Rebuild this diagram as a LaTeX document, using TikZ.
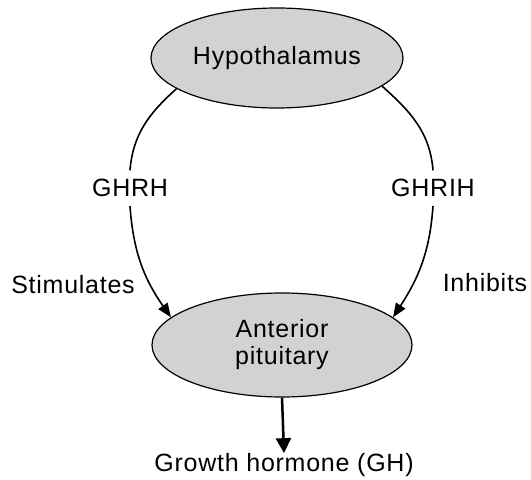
\documentclass[tikz,border=0pt]{standalone}
\usepackage{fontspec}
\setmainfont{Liberation Sans}[LetterSpace=3]
\usetikzlibrary{shapes.geometric,arrows.meta}
\definecolor{boxgray}{RGB}{210,210,210}
\begin{document}
\begin{tikzpicture}[x=1pt,y=1pt,
  organ/.style={ellipse,draw=black,line width=1.2pt,fill=boxgray,inner sep=0pt,align=center,font=\fontsize{25}{27}\selectfont},
  lbl/.style={font=\fontsize{25}{27}\selectfont,inner sep=0pt},
  midlbl/.style={font=\fontsize{25}{27}\selectfont,inner sep=9pt},
  link/.style={line width=1.6pt,line cap=round},
  linkarrow/.style={line width=1.6pt,-{Triangle[length=14pt,width=11pt]}},
  downarrow/.style={line width=2.5pt,-{Triangle[length=15pt,width=15pt]}}]
\useasboundingbox (0,0) rectangle (531,480);
\node[organ,minimum width=252pt,minimum height=100pt] (hyp) at (277,422) {Hypothalamus};
\node[organ,minimum width=260pt,minimum height=104pt] (ant) at (282,135) {Anterior\\pituitary};
\node[midlbl] (ghrh) at (130,292) {GHRH};
\node[midlbl] (ghrih) at (433,292) {GHRIH};
\node[lbl] (stim) at (73,195) {Stimulates};
\node[lbl] (inh) at (485,197) {Inhibits};
\node[lbl] (gh) at (284,15) {Growth hormone (GH)};
\draw[link] (hyp.197) to[out=-138,in=85] (ghrh.north);
\draw[linkarrow] (ghrh.south) to[out=-86,in=125] (ant.166);
\draw[link] (hyp.345) to[out=-42,in=95] (ghrih.north);
\draw[linkarrow] (ghrih.south) to[out=-94,in=57] (ant.14);
\draw[downarrow] (ant.south) -- (gh.north);
\end{tikzpicture}
\end{document}
